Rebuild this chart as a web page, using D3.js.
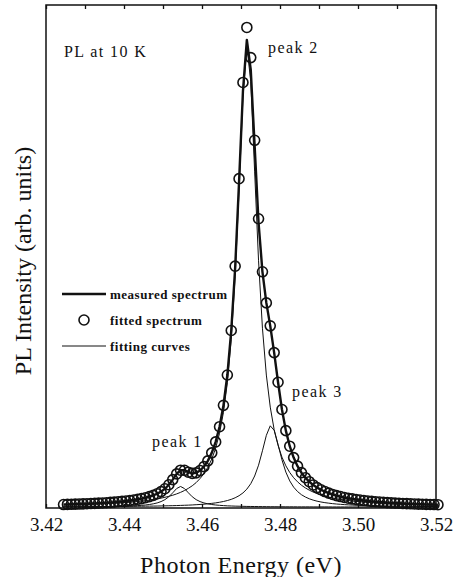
<!DOCTYPE html>
<html>
<head>
<meta charset="utf-8">
<script src="https://cdn.jsdelivr.net/npm/d3@7"></script>
<style>
  body { margin: 0; background: #ffffff; }
</style>
</head>
<body>
<div id="chart"></div>
<script>
// Photon energy of every sample (eV)
var energy = [3.4245, 3.4255, 3.4265, 3.4275, 3.4285, 3.4295, 3.4305, 3.4315, 3.4325, 3.4335,
              3.4345, 3.4355, 3.4365, 3.4375, 3.4385, 3.4395, 3.4405, 3.4415, 3.4425, 3.4435,
              3.4445, 3.4455, 3.4465, 3.4475, 3.4485, 3.4495, 3.4505, 3.4515, 3.4525, 3.4535,
              3.4545, 3.4555, 3.4565, 3.4575, 3.4585, 3.4595, 3.4605, 3.4615, 3.4625, 3.4635,
              3.4645, 3.4655, 3.4665, 3.4675, 3.4685, 3.4695, 3.4705, 3.4715, 3.4725, 3.4735,
              3.4745, 3.4755, 3.4765, 3.4775, 3.4785, 3.4795, 3.4805, 3.4815, 3.4825, 3.4835,
              3.4845, 3.4855, 3.4865, 3.4875, 3.4885, 3.4895, 3.4905, 3.4915, 3.4925, 3.4935,
              3.4945, 3.4955, 3.4965, 3.4975, 3.4985, 3.4995, 3.5005, 3.5015, 3.5025, 3.5035,
              3.5045, 3.5055, 3.5065, 3.5075, 3.5085, 3.5095, 3.5105, 3.5115, 3.5125, 3.5135,
              3.5145, 3.5155, 3.5165, 3.5175, 3.5185, 3.5195, 3.5205];

// Fitted spectrum (circles)
var fitted = [0.52, 0.55, 0.57, 0.60, 0.63, 0.66, 0.70, 0.73, 0.77, 0.81,
              0.86, 0.91, 0.97, 1.03, 1.11, 1.18, 1.27, 1.37, 1.48, 1.62,
              1.77, 1.95, 2.17, 2.44, 2.78, 3.23, 3.83, 4.66, 5.74, 6.93,
              7.71, 7.68, 7.29, 7.04, 7.14, 7.64, 8.46, 9.66, 11.33, 13.62,
              16.80, 21.27, 27.62, 36.92, 50.38, 68.68, 88.8, 100.3, 94.0, 76.7,
              60.3, 49.2, 42.7, 37.9, 32.3, 26.1, 20.4, 15.98, 12.73, 10.34,
              8.55, 7.19, 6.14, 5.30, 4.62, 4.07, 3.62, 3.24, 2.91, 2.63,
              2.39, 2.19, 2.00, 1.84, 1.70, 1.58, 1.47, 1.36, 1.27, 1.19,
              1.12, 1.05, 0.99, 0.93, 0.88, 0.83, 0.79, 0.75, 0.71, 0.68,
              0.65, 0.62, 0.59, 0.56, 0.54, 0.52, 0.49];

// Measured spectrum (thick line)
var measured = [0.52, 0.55, 0.57, 0.60, 0.63, 0.66, 0.70, 0.73, 0.77, 0.81,
                0.86, 0.91, 0.97, 1.03, 1.11, 1.18, 1.27, 1.37, 1.48, 1.62,
                1.77, 1.95, 2.17, 2.44, 2.78, 3.23, 3.83, 4.66, 5.74, 6.93,
                7.71, 7.68, 7.29, 7.04, 7.14, 7.64, 8.46, 9.66, 11.33, 13.62,
                16.80, 21.27, 27.62, 36.92, 50.0, 68.0, 87.0, 97.7, 91.5, 75.5,
                59.5, 49.2, 42.7, 37.9, 32.3, 26.1, 20.4, 15.98, 12.73, 10.34,
                8.55, 7.19, 6.14, 5.30, 4.62, 4.07, 3.62, 3.24, 2.91, 2.63,
                2.39, 2.19, 2.00, 1.84, 1.70, 1.58, 1.47, 1.36, 1.27, 1.19,
                1.12, 1.05, 0.99, 0.93, 0.88, 0.83, 0.79, 0.75, 0.71, 0.68,
                0.65, 0.62, 0.59, 0.56, 0.54, 0.52, 0.49];

// Fitting curves, one per peak (thin lines)
var peak1 = [0.04, 0.05, 0.05, 0.05, 0.06, 0.06, 0.07, 0.07, 0.08, 0.09,
             0.10, 0.11, 0.12, 0.13, 0.15, 0.17, 0.19, 0.22, 0.25, 0.30,
             0.36, 0.43, 0.53, 0.67, 0.86, 1.14, 1.55, 2.15, 2.98, 3.87,
             4.30, 3.87, 2.98, 2.15, 1.55, 1.14, 0.86, 0.67, 0.53, 0.43,
             0.36, 0.30, 0.25, 0.22, 0.19, 0.17, 0.15, 0.13, 0.12, 0.11,
             0.10, 0.09, 0.08, 0.07, 0.07, 0.06, 0.06, 0.05, 0.05, 0.05,
             0.04, 0.04, 0.04, 0.04, 0.03, 0.03, 0.03, 0.03, 0.03, 0.02,
             0.02, 0.02, 0.02, 0.02, 0.02, 0.02, 0.02, 0.02, 0.02, 0.02,
             0.01, 0.01, 0.01, 0.01, 0.01, 0.01, 0.01, 0.01, 0.01, 0.01,
             0.01, 0.01, 0.01, 0.01, 0.01, 0.01, 0.01];

var peak2 = [0.42, 0.43, 0.45, 0.48, 0.50, 0.52, 0.55, 0.57, 0.60, 0.63,
             0.67, 0.71, 0.75, 0.79, 0.84, 0.89, 0.95, 1.01, 1.08, 1.16,
             1.25, 1.34, 1.45, 1.57, 1.71, 1.86, 2.04, 2.24, 2.47, 2.75,
             3.07, 3.45, 3.91, 4.45, 5.11, 5.96, 6.99, 8.32, 10.03, 12.32,
             15.44, 19.81, 26.01, 35.09, 48.25, 66.14, 85.7, 96.4, 89.0, 70.1,
             51.5, 37.4, 27.6, 20.9, 16.2, 12.9, 10.44, 8.62, 7.22, 6.13,
             5.27, 4.57, 4.00, 3.53, 3.14, 2.81, 2.53, 2.29, 2.08, 1.90,
             1.74, 1.60, 1.47, 1.36, 1.26, 1.18, 1.10, 1.03, 0.96, 0.90,
             0.85, 0.80, 0.76, 0.71, 0.68, 0.64, 0.61, 0.58, 0.55, 0.53,
             0.50, 0.48, 0.46, 0.44, 0.42, 0.40, 0.39];

var peak3 = [0.07, 0.07, 0.07, 0.07, 0.08, 0.08, 0.08, 0.09, 0.09, 0.09,
             0.10, 0.10, 0.11, 0.11, 0.12, 0.13, 0.13, 0.14, 0.15, 0.16,
             0.17, 0.18, 0.19, 0.20, 0.21, 0.23, 0.25, 0.27, 0.29, 0.31,
             0.34, 0.37, 0.40, 0.44, 0.49, 0.54, 0.60, 0.68, 0.77, 0.87,
             1.00, 1.16, 1.36, 1.61, 1.94, 2.37, 2.95, 3.75, 4.88, 6.49,
             8.76, 11.77, 15.0, 16.99, 16.05, 13.1, 9.88, 7.31, 5.46, 4.16,
             3.24, 2.58, 2.10, 1.73, 1.45, 1.23, 1.06, 0.92, 0.81, 0.71,
             0.63, 0.57, 0.51, 0.46, 0.42, 0.38, 0.35, 0.32, 0.30, 0.27,
             0.25, 0.24, 0.22, 0.21, 0.19, 0.18, 0.17, 0.16, 0.15, 0.14,
             0.14, 0.13, 0.12, 0.12, 0.11, 0.11, 0.10];

// Axis ticks
var xTicks = [3.42, 3.43, 3.44, 3.45, 3.46, 3.47, 3.48, 3.49, 3.50, 3.51, 3.52];
var xTickLabels = ["3.42", "", "3.44", "", "3.46", "", "3.48", "", "3.50", "", "3.52"];

var width = 454;
var height = 577;
var margin = ({ top: 5, right: 18, bottom: 69, left: 46 });
var ink = "#111111";
var serif = "'Liberation Serif', 'Times New Roman', serif";

var svg = d3.select("#chart")
    .append("svg")
    .attr("width", width)
    .attr("height", height)
    .style("background", "#ffffff");

var x = d3.scaleLinear()
    .domain([3.42, 3.52])
    .range([margin.left, width - margin.right]);

var y = d3.scaleLinear()
    .domain([-0.2, 105])
    .range([height - margin.bottom, margin.top]);

// Frame
svg.append("rect")
    .attr("x", x.range()[0])
    .attr("y", y.range()[1])
    .attr("width", x.range()[1] - x.range()[0])
    .attr("height", y.range()[0] - y.range()[1])
    .attr("fill", "none")
    .attr("stroke", ink)
    .attr("stroke-width", 1.5);

// Bottom axis: ticks point inward, labels every 0.02
var bottomAxis = svg.append("g")
    .attr("transform", `translate(0, ${y.range()[0]})`)
    .call(d3.axisBottom(x)
        .tickValues(xTicks)
        .tickFormat((d, i) => xTickLabels[i])
        .tickSizeInner(-4)
        .tickSizeOuter(0)
        .tickPadding(10));

bottomAxis.select(".domain").remove();
bottomAxis.selectAll("line").attr("stroke", ink).attr("stroke-width", 1.3);
bottomAxis.selectAll("text")
    .attr("font-family", serif)
    .attr("font-size", 19)
    .attr("fill", ink);

// Top axis: ticks only
var topAxis = svg.append("g")
    .attr("transform", `translate(0, ${y.range()[1]})`)
    .call(d3.axisTop(x)
        .tickValues(xTicks)
        .tickFormat("")
        .tickSizeInner(-4)
        .tickSizeOuter(0));

topAxis.select(".domain").remove();
topAxis.selectAll("line").attr("stroke", ink).attr("stroke-width", 1.3);

// Line generator shared by the spectra
var line = d3.line()
    .x((d, i) => x(energy[i]))
    .y(d => y(d));

// Fitting curves
[peak1, peak2, peak3].forEach(function(curve) {
  svg.append("path")
    .datum(curve)
    .attr("d", line)
    .attr("fill", "none")
    .attr("stroke", ink)
    .attr("stroke-width", 1);
});

// Measured spectrum
svg.append("path")
    .datum(measured)
    .attr("d", line)
    .attr("fill", "none")
    .attr("stroke", ink)
    .attr("stroke-width", 2.4)
    .attr("stroke-linejoin", "round");

// Fitted spectrum as open circles
svg.append("g")
  .selectAll("circle")
  .data(fitted)
  .enter()
  .append("circle")
    .attr("cx", (d, i) => x(energy[i]))
    .attr("cy", d => y(d))
    .attr("r", 5)
    .attr("fill", "none")
    .attr("stroke", ink)
    .attr("stroke-width", 1.6);

// Legend
var legend = svg.append("g")
    .attr("font-family", serif)
    .attr("font-size", 13)
    .attr("font-weight", "bold")
    .attr("letter-spacing", 0.5)
    .attr("fill", ink);

legend.append("line")
    .attr("x1", 62).attr("x2", 106)
    .attr("y1", 294).attr("y2", 294)
    .attr("stroke", ink)
    .attr("stroke-width", 2.4);
legend.append("text").attr("x", 110).attr("y", 299).text("measured spectrum");

legend.append("circle")
    .attr("cx", 84).attr("cy", 320)
    .attr("r", 5)
    .attr("fill", "none")
    .attr("stroke", ink)
    .attr("stroke-width", 1.6);
legend.append("text").attr("x", 110).attr("y", 325).text("fitted spectrum");

legend.append("line")
    .attr("x1", 62).attr("x2", 106)
    .attr("y1", 346).attr("y2", 346)
    .attr("stroke", ink)
    .attr("stroke-width", 1);
legend.append("text").attr("x", 110).attr("y", 351).text("fitting curves");

// Annotations
var notes = svg.append("g")
    .attr("font-family", serif)
    .attr("fill", ink);

notes.append("text").attr("x", 64).attr("y", 57)
    .attr("font-size", 16).attr("letter-spacing", 1.4).text("PL at 10 K");
notes.append("text").attr("x", 268).attr("y", 53)
    .attr("font-size", 16).attr("letter-spacing", 1.4).text("peak 2");
notes.append("text").attr("x", 292).attr("y", 397)
    .attr("font-size", 16).attr("letter-spacing", 1.4).text("peak 3");
notes.append("text").attr("x", 152).attr("y", 447)
    .attr("font-size", 16).attr("letter-spacing", 1.4).text("peak 1");

// Axis titles
svg.append("text")
    .attr("x", 241)
    .attr("y", 573)
    .attr("text-anchor", "middle")
    .attr("font-family", serif)
    .attr("font-size", 24)
    .attr("letter-spacing", 0.5)
    .attr("fill", ink)
    .text("Photon Energy (eV)");

svg.append("text")
    .attr("transform", "translate(31, 261) rotate(-90)")
    .attr("text-anchor", "middle")
    .attr("font-family", serif)
    .attr("font-size", 24)
    .attr("fill", ink)
    .text("PL Intensity (arb. units)");
</script>
</body>
</html>
